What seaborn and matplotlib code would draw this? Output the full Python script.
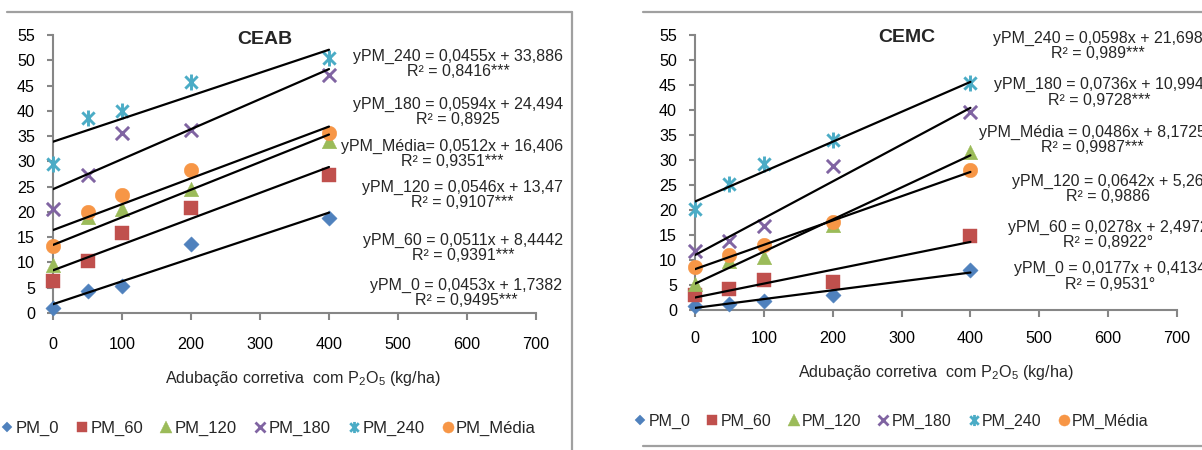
import numpy as np
import matplotlib
matplotlib.use("Agg")
import matplotlib.pyplot as plt
import seaborn as sns
from matplotlib.path import Path
from matplotlib.lines import Line2D

# ---------------- data ----------------
doses = [0, 50, 100, 200, 400]
series = ["PM_0", "PM_60", "PM_120", "PM_180", "PM_240", "PM_Média"]

ceab_pm0 = [1.0, 4.3, 5.3, 13.7, 18.8]
ceab_pm60 = [6.3, 10.3, 15.8, 20.7, 27.3]
ceab_pm120 = [9.5, 19.0, 20.5, 24.5, 34.0]
ceab_pm180 = [20.5, 27.3, 35.6, 36.2, 47.0]
ceab_pm240 = [29.5, 38.5, 40.0, 45.8, 50.4]
ceab_media = [13.3, 19.9, 23.4, 28.2, 35.6]

cemc_pm0 = [0.8, 1.3, 1.8, 3.0, 8.1]
cemc_pm60 = [3.0, 4.3, 6.0, 5.6, 14.8]
cemc_pm120 = [5.3, 9.8, 10.7, 17.0, 31.7]
cemc_pm180 = [11.8, 13.8, 16.8, 28.8, 39.7]
cemc_pm240 = [20.3, 25.3, 29.3, 34.0, 45.5]
cemc_media = [8.7, 11.0, 13.0, 17.7, 28.1]

ceab_slopes = [0.0453, 0.0511, 0.0546, 0.0594, 0.0455, 0.0512]
ceab_intercepts = [1.7382, 8.4442, 13.47, 24.494, 33.886, 16.406]
cemc_slopes = [0.0177, 0.0278, 0.0642, 0.0736, 0.0598, 0.0486]
cemc_intercepts = [0.4134, 2.4972, 5.26, 10.994, 21.698, 8.1725]

ceab_eq = ["yPM_0 = 0,0453x + 1,7382", "yPM_60 = 0,0511x + 8,4442",
           "yPM_120 = 0,0546x + 13,47", "yPM_180 = 0,0594x + 24,494",
           "yPM_240 = 0,0455x + 33,886", "yPM_Média= 0,0512x + 16,406"]
ceab_r2 = ["R² = 0,9495***", "R² = 0,9391***", "R² = 0,9107***",
           "R² = 0,8925", "R² = 0,8416***", "R² = 0,9351***"]
cemc_eq = ["yPM_0 = 0,0177x + 0,4134", "yPM_60 = 0,0278x + 2,4972",
           "yPM_120 = 0,0642x + 5,26", "yPM_180 = 0,0736x + 10,994",
           "yPM_240 = 0,0598x + 21,698", "yPM_Média = 0,0486x + 8,1725"]
cemc_r2 = ["R² = 0,9531°", "R² = 0,8922°", "R² = 0,9886",
           "R² = 0,9728***", "R² = 0,989***", "R² = 0,9987***"]

x_ticks = [0, 100, 200, 300, 400, 500, 600, 700]
y_ticks = [0, 5, 10, 15, 20, 25, 30, 35, 40, 45, 50, 55]
xlabel = "Adubação corretiva  com P$_2$O$_5$ (kg/ha)"

# ---------------- style ----------------
sns.set_theme(style="white")
plt.rcParams["font.family"] = ["Liberation Sans", "DejaVu Sans"]
plt.rcParams["mathtext.fontset"] = "custom"
plt.rcParams["mathtext.rm"] = "Liberation Sans"
plt.rcParams["mathtext.it"] = "Liberation Sans:italic"

W, H = 1202, 450
fig = plt.figure(figsize=(W / 100, H / 100), dpi=100)
fig.patch.set_facecolor("white")


def fx(x):
    return x / W


def fy(y):
    return 1 - y / H


star = Path([(-1, -1), (1, 1), (-1, 1), (1, -1), (0, -1.3), (0, 1.3)],
            [Path.MOVETO, Path.LINETO, Path.MOVETO, Path.LINETO, Path.MOVETO, Path.LINETO])

colors = ["#4F81BD", "#C0504D", "#9BBB59", "#8064A2", "#4BACC6", "#F79646"]
markers = ["D", "s", "^", "x", star, "o"]
sizes = [7.8, 9.5, 10.5, 9.5, 11.5, 10.5]
filled = [True, True, True, False, False, True]

panels = [
    dict(name="CEAB",
         data=[ceab_pm0, ceab_pm60, ceab_pm120, ceab_pm180, ceab_pm240, ceab_media],
         slopes=ceab_slopes, inter=ceab_intercepts, eq=ceab_eq, r2=ceab_r2,
         rect=[fx(53), fy(313), fx(536) - fx(53), fy(35) - fy(313)],
         title_xy=(265, 39),
         eq_xy=[(466, 293), (463, 248), (462, 195), (458, 112), (458, 64), (452, 154)],
         xlabel_xy=(303, 378), leg_xy=(268, 428), leg_fs=12.0, xtick_pad=12,
         ),
    dict(name="CEMC",
         data=[cemc_pm0, cemc_pm60, cemc_pm120, cemc_pm180, cemc_pm240, cemc_media],
         slopes=cemc_slopes, inter=cemc_intercepts, eq=cemc_eq, r2=cemc_r2,
         rect=[fx(695), fy(310), fx(1177) - fx(695), fy(35) - fy(310)],
         title_xy=(907, 38),
         eq_xy=[(1110, 276.5), (1108, 235), (1108, 189), (1099, 92.5), (1098, 46), (1092, 140)],
         xlabel_xy=(936, 372), leg_xy=(891, 421), leg_fs=11.5, xtick_pad=10,
         ),
]

axis_gray = "#868686"

for p in panels:
    ax = fig.add_axes(p["rect"])
    ax.set_facecolor("white")
    xs = np.array([0, 400])
    for vals, c, m, sz, fl in zip(p["data"], colors, markers, sizes, filled):
        if fl:
            sns.scatterplot(x=doses, y=vals, ax=ax, marker=m, s=sz ** 2, color=c,
                            edgecolor=c, linewidth=0.3, zorder=3, clip_on=False, legend=False)
        else:
            sns.scatterplot(x=doses, y=vals, ax=ax, marker=m, s=sz ** 2, color=c,
                            edgecolor=c, linewidth=2.1, zorder=3, clip_on=False, legend=False)
    for a, b in zip(p["slopes"], p["inter"]):
        sns.lineplot(x=xs, y=b + a * xs, ax=ax, color="black", linewidth=1.6,
                     zorder=4, legend=False)

    ax.set_xlim(0, 700)
    ax.set_ylim(0, 55)
    ax.set_xticks(x_ticks)
    ax.set_yticks(y_ticks)
    ax.set_xticklabels([str(t) for t in x_ticks], fontsize=11.6, color="black")
    ax.set_yticklabels([str(t) for t in y_ticks], fontsize=11.6, color="black")
    for s in ["top", "right"]:
        ax.spines[s].set_visible(False)
    for s in ["left", "bottom"]:
        ax.spines[s].set_color(axis_gray)
        ax.spines[s].set_linewidth(1.5)
    ax.tick_params(axis="x", direction="out", length=5, width=1.5, color=axis_gray,
                   pad=p["xtick_pad"], bottom=True)
    ax.tick_params(axis="y", direction="out", length=4, width=1.5, color=axis_gray,
                   pad=9, left=True)
    ax.grid(False)

    ax.set_xlabel(xlabel, fontsize=11.6)
    ax.xaxis.label.set_va("center")
    inv = ax.transAxes.inverted()
    lx, ly = inv.transform(fig.transFigure.transform((fx(p["xlabel_xy"][0]), fy(p["xlabel_xy"][1]))))
    ax.xaxis.set_label_coords(lx, ly)
    ax.set_ylabel("")

    fig.text(fx(p["title_xy"][0]), fy(p["title_xy"][1]), p["name"], fontsize=14,
             fontweight="bold", ha="center", va="center")

    for (ex, ey), e, r in zip(p["eq_xy"], p["eq"], p["r2"]):
        fig.text(fx(ex), fy(ey), e + "\n" + r, fontsize=11.5, ha="center", va="center",
                 multialignment="center", linespacing=1.05)

    handles = []
    for lab, c, m, fl in zip(series, colors, markers, filled):
        ms = {"D": 5.5, "s": 7.5, "^": 8, "x": 7, "o": 8}.get(m if isinstance(m, str) else "*", 8)
        handles.append(Line2D([], [], linestyle="none", marker=m, markersize=ms,
                              color=c, markeredgecolor=c,
                              markeredgewidth=0.3 if fl else 2.0, label=lab))
    ax.legend(handles=handles, loc="center",
              bbox_to_anchor=(fx(p["leg_xy"][0]), fy(p["leg_xy"][1])),
              bbox_transform=fig.transFigure, ncol=6, frameon=False,
              fontsize=p["leg_fs"], handlelength=0.8, handletextpad=0.1,
              columnspacing=1.0, borderaxespad=0, borderpad=0)

# chart-area borders
border = "#a0a0a0"
fig.add_artist(Line2D([fx(7), fx(572)], [fy(12), fy(12)], color=border, lw=1.6))
fig.add_artist(Line2D([fx(572), fx(572)], [fy(12), fy(452)], color=border, lw=1.6))
fig.add_artist(Line2D([fx(643), fx(1205)], [fy(12), fy(12)], color=border, lw=1.6))
fig.add_artist(Line2D([fx(643), fx(1205)], [fy(446), fy(446)], color=border, lw=1.6))

fig.savefig("out.png", dpi=100, facecolor="white")
